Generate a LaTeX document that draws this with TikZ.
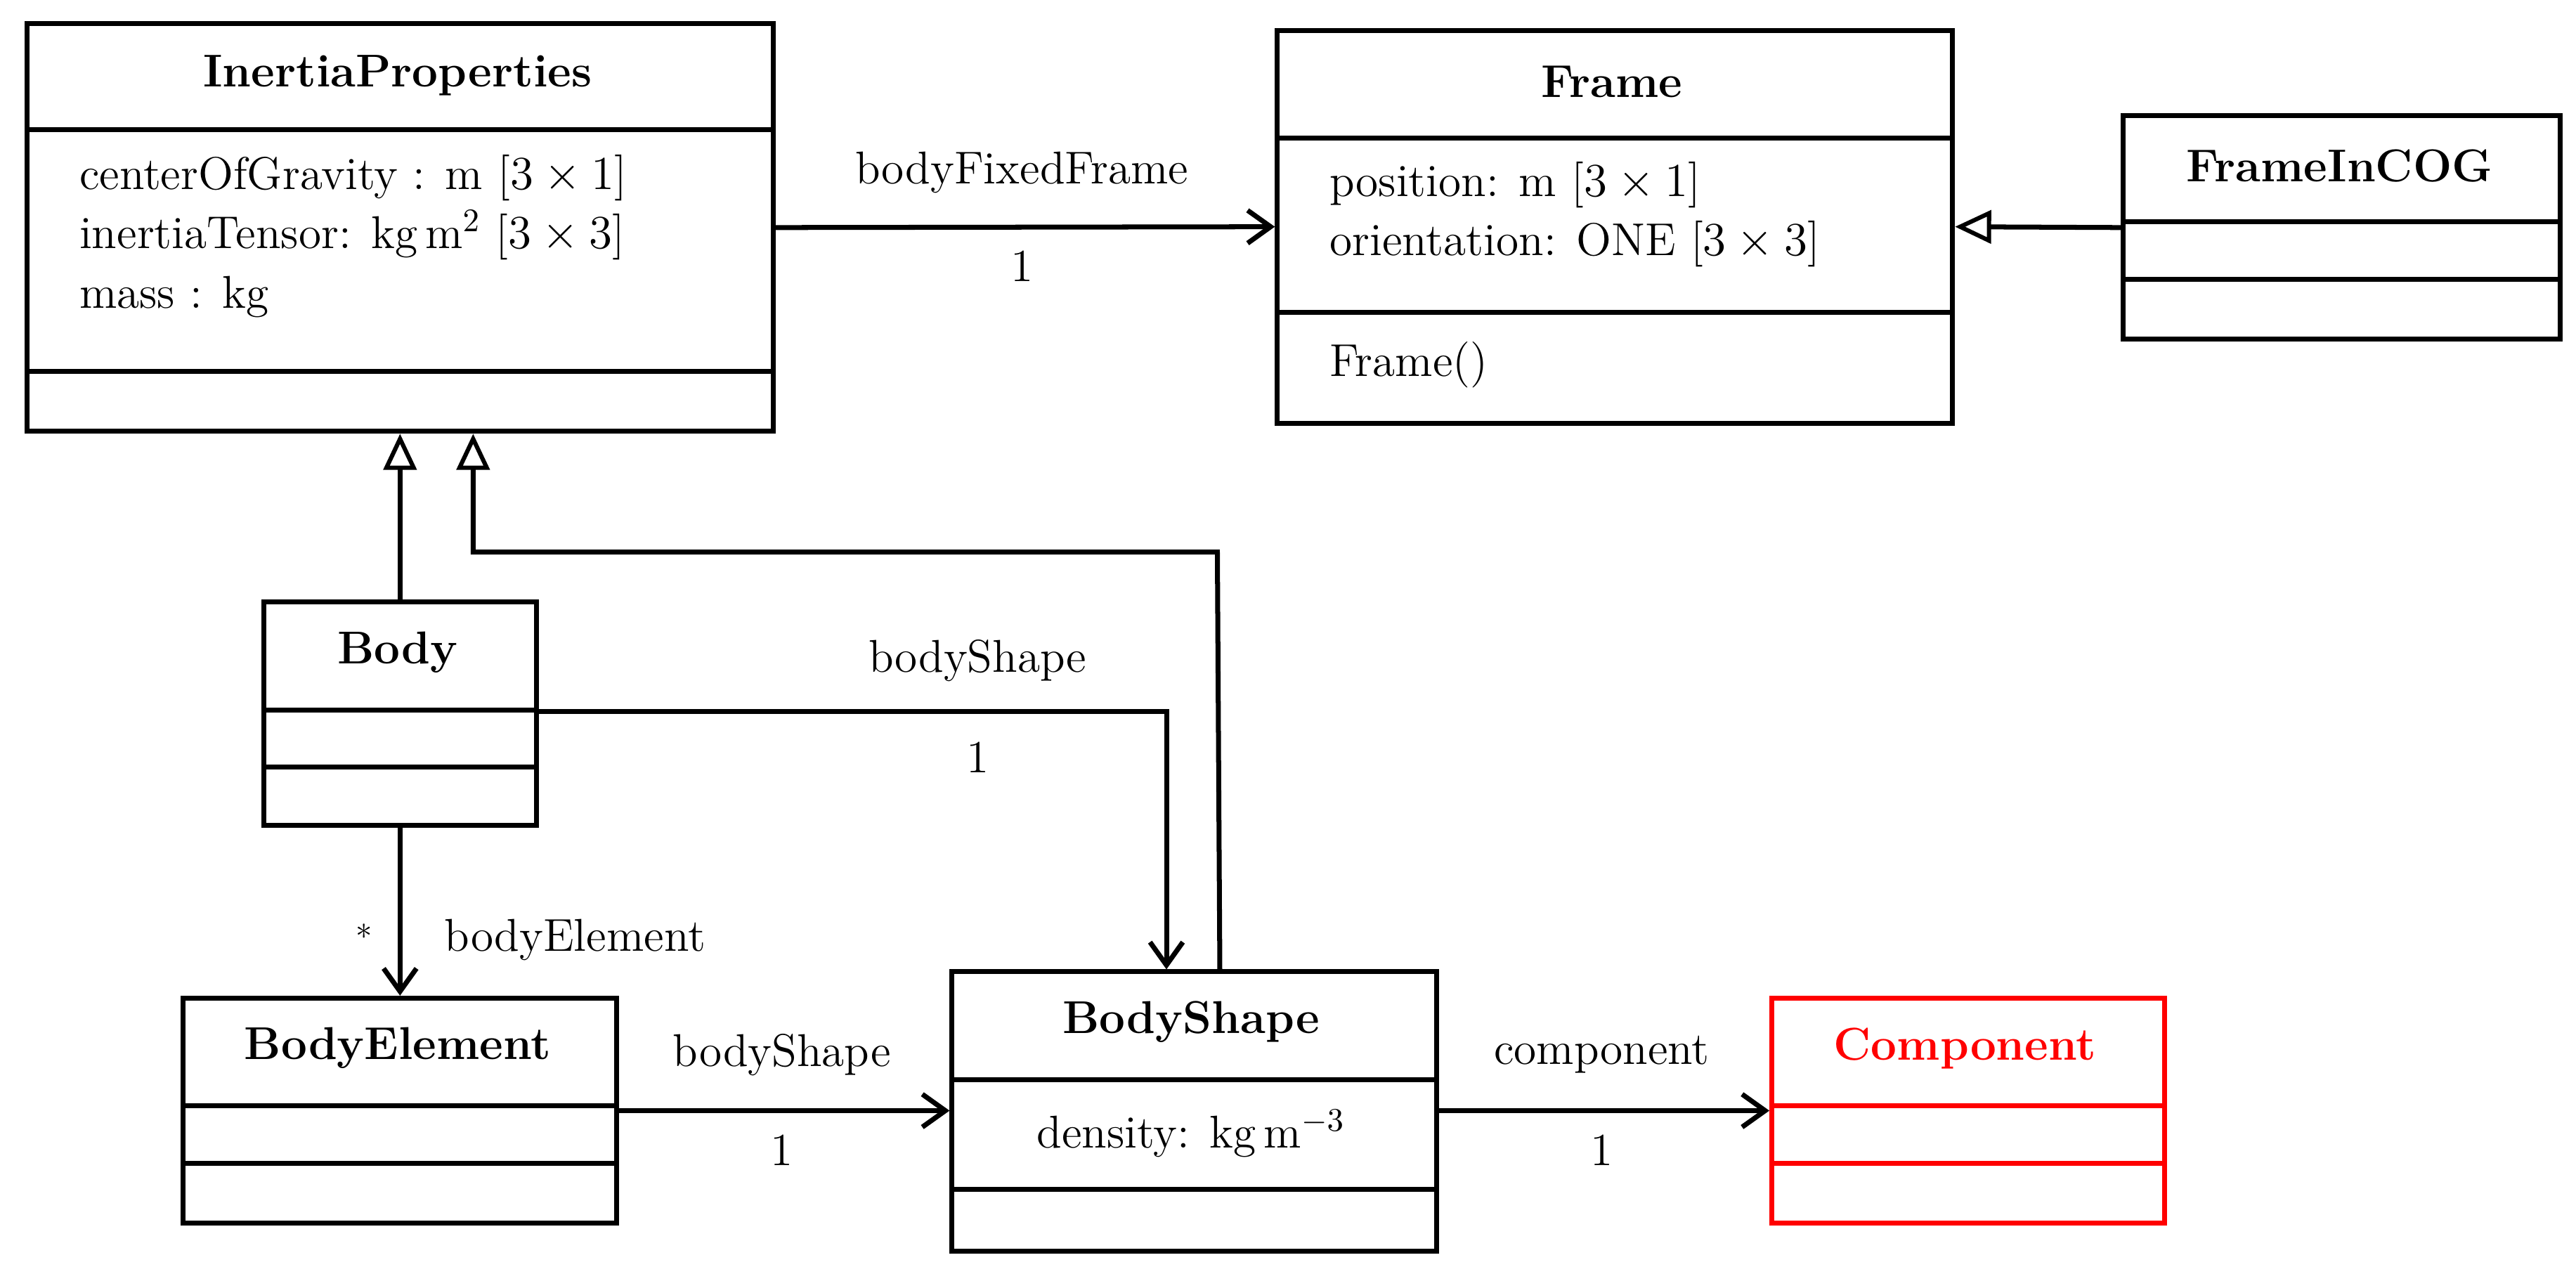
\documentclass[tikz,border=0pt]{standalone}
\usetikzlibrary{arrows.meta}
\begin{document}
\fontsize{14}{17}\selectfont
\begin{tikzpicture}[x=0.5pt,y=-0.5pt,
  box/.style={draw,line width=1.5pt,inner sep=0pt},
  ln/.style={line width=1.5pt},
  gen/.style={ln,-{Triangle[open,length=11pt,width=10pt,line width=1.3pt]}},
  asc/.style={ln,-{Straight Barb[length=7pt,width=10pt,line width=1.5pt]}},
  ttl/.style={font=\bfseries\fontsize{14}{17}\selectfont},
  lab/.style={inner sep=0pt}]
\useasboundingbox (0,0) rectangle (1568,771);
\newcommand{\umlbox}[7][black]{%
  \node[box,draw=#1,minimum width=(#5-#3)*0.5pt,minimum height=(#6-#4)*0.5pt,anchor=north west] (#2) at (#3,#4) {};
  \foreach \d in {#7} {\draw[ln,draw=#1] (#3,\d) -- (#5,\d);}}
% InertiaProperties
\umlbox{ip}{15}{13}{469}{261}{79,226}
\node[ttl] at (242,46) {InertiaProperties};
\node[anchor=north west,align=left,inner sep=0pt] (ipa) at (48,94) {centerOfGravity : m [$3\times1$]\\[1pt]inertiaTensor: kg\,m$^2$ [$3\times3$]\\[1pt]mass : kg};
% Frame
\umlbox{frame}{776}{17}{1187}{256}{84,190}
\node[ttl] at (981,50) {Frame};
\node[anchor=north west,align=left,inner sep=0pt] (fra) at (809,98) {position: m [$3\times1$]\\[1pt]orientation: ONE [$3\times3$]};
\node[anchor=west,inner sep=0pt] (frm) at (809,222) {Frame()};
% FrameInCOG
\umlbox{fic}{1291}{69}{1557}{205}{135,170}
\node[ttl] at (1424,101) {FrameInCOG};
% Body
\umlbox{body}{159}{365}{325}{501}{432,467}
\node[ttl] at (242,397) {Body};
% BodyElement
\umlbox{be}{110}{606}{374}{743}{673,708}
\node[ttl] at (242,638) {BodyElement};
% BodyShape
\umlbox{bs}{578}{590}{873}{760}{657,724}
\node[ttl] at (725,622) {BodyShape};
\node (bsa) at (725,690) {density: kg\,m$^{-3}$};
% Component
\umlbox[red]{comp}{1077}{606}{1316}{743}{673,708}
\node[ttl,text=red] at (1196,638) {Component};
% connectors
\draw[asc] (ip.east) -- (frame.west);
\node[lab] (l1) at (622,105) {bodyFixedFrame};
\node[lab] (l2) at (622,162) {1};
\draw[gen] (fic.west) -- (frame.east);
\draw[gen] (body.north) -- (ip.south);
\coordinate (g1) at (741,336);
\coordinate (g2) at (288,336);
\draw[gen] ([xshift=15.5*0.5pt]bs.north) -- (g1) -- (g2) -- (g2 |- ip.south);
\coordinate (b1) at (710,433);
\draw[asc] (body.east |- b1) -- (b1) -- (b1 |- bs.north);
\node[lab] (l3) at (595,402) {bodyShape};
\node[lab] (l4) at (595,461) {1};
\draw[asc] (body.south) -- (be.north);
\node[lab] (l5) at (222,572) {$^*$};
\node[lab] (l6) at (350,572) {bodyElement};
\draw[asc] (be.east) -- (bs.west |- be.east);
\node[lab] (l7) at (476,642) {bodyShape};
\node[lab] (l8) at (476,700) {1};
\draw[asc] (bs.east |- comp.west) -- (comp.west);
\node[lab] (l9) at (975,642) {component};
\node[lab] (l10) at (975,700) {1};
\end{tikzpicture}
\end{document}
